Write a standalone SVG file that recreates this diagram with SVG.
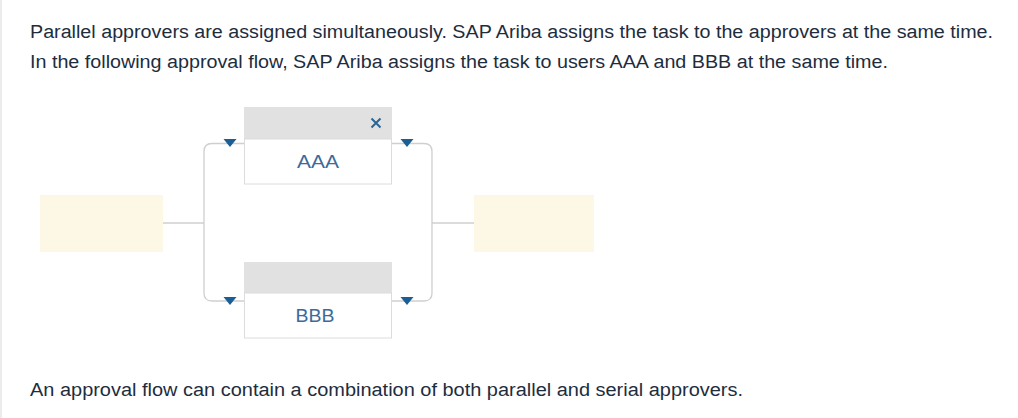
<svg xmlns="http://www.w3.org/2000/svg" width="1018" height="418" viewBox="0 0 1018 418">
<style>
.t{font-family:"Liberation Sans",Arial,sans-serif;font-size:18px;fill:#1d2d3e}
.lbl{font-family:"Liberation Sans",Arial,sans-serif;font-size:18px;fill:#3d6a9a;text-anchor:middle}
.hdr{fill:#e1e1e1}
.body{fill:#fff;stroke:#dcdcdc;stroke-width:1}
.conn{fill:none;stroke:#cfcfcf;stroke-width:1.3}
.tri{fill:#1b5e94}
.yel{fill:#fdf8e6}
</style>
<rect width="1018" height="418" fill="#fff"/>
<line x1="1" y1="0" x2="1" y2="418" stroke="#e6e6e6" stroke-width="1.5"/>
<text class="t" x="30" y="38" textLength="963" lengthAdjust="spacingAndGlyphs">Parallel approvers are assigned simultaneously. SAP Ariba assigns the task to the approvers at the same time.</text>
<text class="t" x="30" y="68" textLength="858" lengthAdjust="spacingAndGlyphs">In the following approval flow, SAP Ariba assigns the task to users AAA and BBB at the same time.</text>
<text class="t" x="30" y="396" textLength="713" lengthAdjust="spacingAndGlyphs">An approval flow can contain a combination of both parallel and serial approvers.</text>
<g id="connectors">
<path class="conn" d="M244,143.5 H212 Q204,143.5 204,151.5 V293 Q204,301 212,301 H244"/>
<path class="conn" d="M392,143.5 H424 Q432,143.5 432,151.5 V293 Q432,301 424,301 H392"/>
<line class="conn" x1="163" y1="223" x2="204" y2="223"/>
<line class="conn" x1="432" y1="223" x2="474" y2="223"/>
<polygon class="tri" points="223.5,139 236.5,139 230,147"/>
<polygon class="tri" points="400.5,139 413.5,139 407,147"/>
<polygon class="tri" points="223.5,297 236.5,297 230,305"/>
<polygon class="tri" points="400.5,297 413.5,297 407,305"/>
</g>
<g id="start"><rect class="yel" x="40" y="195" width="123" height="57"/></g>
<g id="end"><rect class="yel" x="474" y="195" width="120" height="57"/></g>
<g id="aaa">
<rect class="hdr" x="244" y="107" width="148" height="32"/>
<rect class="body" x="244.5" y="139" width="147" height="45"/>
<path d="M371.5,118.5 L380.5,127.5 M380.5,118.5 L371.5,127.5" stroke="#2b6598" stroke-width="2" fill="none"/>
<text class="lbl" x="318" y="168" textLength="42" lengthAdjust="spacingAndGlyphs">AAA</text>
</g>
<g id="bbb">
<rect class="hdr" x="244" y="262" width="148" height="31"/>
<rect class="body" x="244.5" y="293" width="147" height="45"/>
<text class="lbl" x="315" y="322" textLength="39" lengthAdjust="spacingAndGlyphs">BBB</text>
</g>
</svg>
